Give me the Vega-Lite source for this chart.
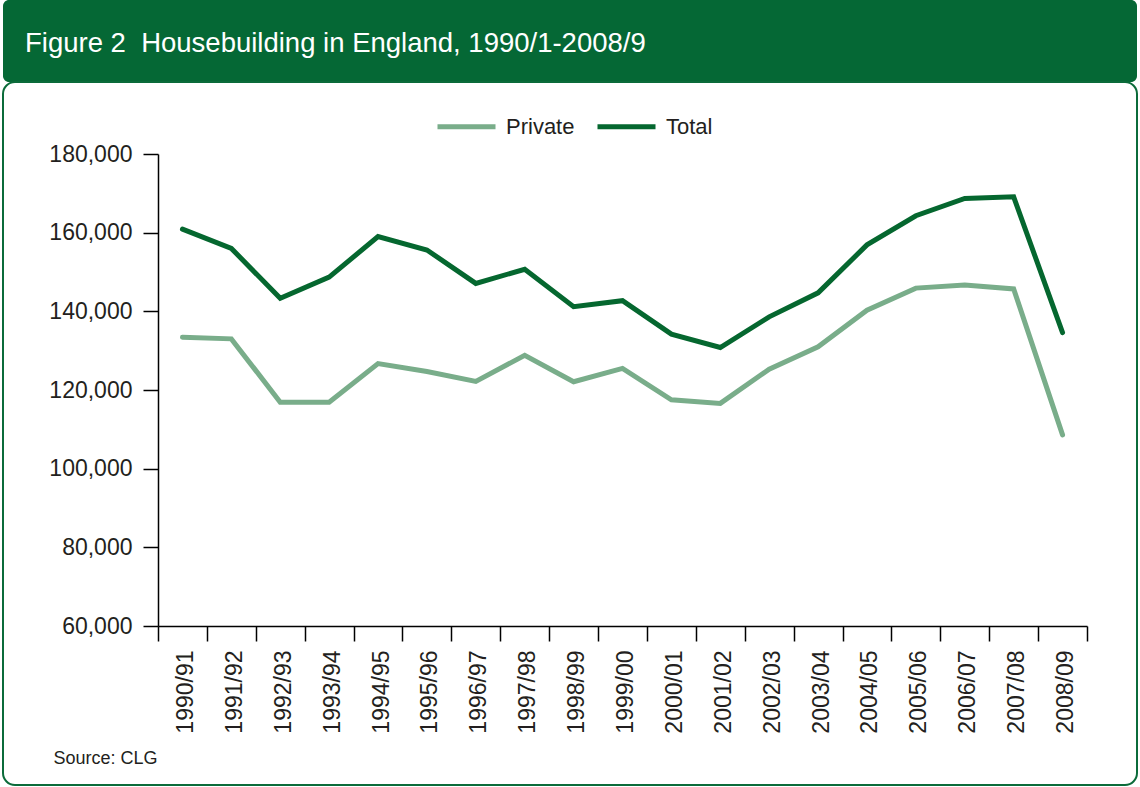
{
  "$schema": "https://vega.github.io/schema/vega-lite/v6.json",
  "background": "white",
  "padding": {"left": -9, "top": 0, "right": 3, "bottom": 2},
  "spacing": 0,
  "bounds": "flush",
  "config": {"font": "Liberation Sans", "concat": {"spacing": 0}},
  "vconcat": [
    {
      "width": 1134,
      "height": 82,
      "view": {"fill": "#056835", "stroke": null, "cornerRadius": 6},
      "data": {"values": [{"t": ""}]},
      "mark": {"type": "text", "opacity": 0},
      "encoding": {"text": {"field": "t"}},
      "title": {
        "text": "Figure 2\u00a0 Housebuilding in England, 1990/1-2008/9",
        "anchor": "start",
        "frame": "group",
        "orient": "top",
        "offset": -52,
        "dx": 22,
        "dy": 27,
        "baseline": "alphabetic",
        "color": "white",
        "font": "Liberation Sans",
        "fontSize": 27.5,
        "fontWeight": "normal"
      }
    },
    {
      "width": 1134,
      "height": 703,
      "view": {"fill": "white", "stroke": "#0b6b3a", "strokeWidth": 2, "cornerRadius": 12},
      "data": {"values": [
        {"year": "1990/91", "series": "Private", "value": 133400},
        {"year": "1991/92", "series": "Private", "value": 133000},
        {"year": "1992/93", "series": "Private", "value": 116900},
        {"year": "1993/94", "series": "Private", "value": 116900},
        {"year": "1994/95", "series": "Private", "value": 126700},
        {"year": "1995/96", "series": "Private", "value": 124700},
        {"year": "1996/97", "series": "Private", "value": 122200},
        {"year": "1997/98", "series": "Private", "value": 128800},
        {"year": "1998/99", "series": "Private", "value": 122100},
        {"year": "1999/00", "series": "Private", "value": 125500},
        {"year": "2000/01", "series": "Private", "value": 117500},
        {"year": "2001/02", "series": "Private", "value": 116600},
        {"year": "2002/03", "series": "Private", "value": 125300},
        {"year": "2003/04", "series": "Private", "value": 131000},
        {"year": "2004/05", "series": "Private", "value": 140300},
        {"year": "2005/06", "series": "Private", "value": 145900},
        {"year": "2006/07", "series": "Private", "value": 146700},
        {"year": "2007/08", "series": "Private", "value": 145700},
        {"year": "2008/09", "series": "Private", "value": 108600},
        {"year": "1990/91", "series": "Total", "value": 160900},
        {"year": "1991/92", "series": "Total", "value": 156000},
        {"year": "1992/93", "series": "Total", "value": 143300},
        {"year": "1993/94", "series": "Total", "value": 148700},
        {"year": "1994/95", "series": "Total", "value": 159000},
        {"year": "1995/96", "series": "Total", "value": 155600},
        {"year": "1996/97", "series": "Total", "value": 147100},
        {"year": "1997/98", "series": "Total", "value": 150700},
        {"year": "1998/99", "series": "Total", "value": 141200},
        {"year": "1999/00", "series": "Total", "value": 142700},
        {"year": "2000/01", "series": "Total", "value": 134200},
        {"year": "2001/02", "series": "Total", "value": 130800},
        {"year": "2002/03", "series": "Total", "value": 138600},
        {"year": "2003/04", "series": "Total", "value": 144700},
        {"year": "2004/05", "series": "Total", "value": 156900},
        {"year": "2005/06", "series": "Total", "value": 164300},
        {"year": "2006/07", "series": "Total", "value": 168700},
        {"year": "2007/08", "series": "Total", "value": 169100},
        {"year": "2008/09", "series": "Total", "value": 134600}
      ]},
      "mark": {"type": "line", "strokeWidth": 5, "strokeCap": "round"},
      "encoding": {
        "x": {
          "field": "year",
          "type": "ordinal",
          "sort": null,
          "scale": {"type": "band", "range": [155, 1084], "paddingInner": 0, "paddingOuter": 0},
          "axis": {
            "orient": "bottom",
            "offset": -159,
            "tickBand": "extent",
            "labelAngle": -90,
            "labelFontSize": 23,
            "labelColor": "#231f20",
            "labelPadding": 9,
            "labelOffset": 3,
            "tickSize": 15,
            "tickColor": "#000000",
            "tickWidth": 1.5,
            "domainColor": "#000000",
            "domainWidth": 1.5,
            "grid": false,
            "title": "Source: CLG",
            "titleX": 50,
            "titleY": 137,
            "titleAlign": "left",
            "titleAnchor": "start",
            "titleBaseline": "alphabetic",
            "titleFontSize": 18,
            "titleFontWeight": "normal",
            "titleColor": "#231f20"
          }
        },
        "y": {
          "field": "value",
          "type": "quantitative",
          "scale": {"domain": [60000, 180000], "range": [544, 72], "zero": false, "nice": false},
          "axis": {
            "orient": "left",
            "offset": -155,
            "values": [60000, 80000, 100000, 120000, 140000, 160000, 180000],
            "format": ",d",
            "labelFontSize": 23,
            "labelColor": "#231f20",
            "labelPadding": 11,
            "tickSize": 15,
            "tickColor": "#000000",
            "tickWidth": 1.5,
            "domainColor": "#000000",
            "domainWidth": 1.5,
            "grid": false,
            "title": null
          }
        },
        "color": {
          "field": "series",
          "type": "nominal",
          "scale": {"domain": ["Private", "Total"], "range": ["#79ad8a", "#05672f"]},
          "legend": {
            "orient": "none",
            "legendX": 432,
            "legendY": 95,
            "direction": "horizontal",
            "title": null,
            "padding": 0,
            "symbolType": "stroke",
            "symbolSize": 3364,
            "symbolStrokeWidth": 5,
            "labelFontSize": 22,
            "labelColor": "#231f20",
            "labelOffset": 8,
            "columnPadding": 12
          }
        }
      }
    }
  ]
}
